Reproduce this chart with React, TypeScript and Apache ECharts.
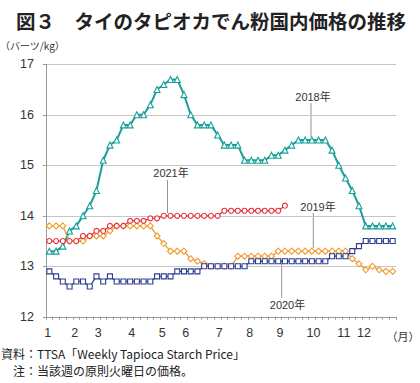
import React, { useEffect, useRef } from 'react';
import * as echarts from 'echarts';

// weekly observations (52 weeks per year)
const weeks: string[] = [
  'W1','W2','W3','W4','W5','W6','W7','W8','W9','W10','W11','W12','W13',
  'W14','W15','W16','W17','W18','W19','W20','W21','W22','W23','W24','W25','W26',
  'W27','W28','W29','W30','W31','W32','W33','W34','W35','W36','W37','W38','W39',
  'W40','W41','W42','W43','W44','W45','W46','W47','W48','W49','W50','W51','W52',
];

const price2018 = [
  13.3, 13.3, 13.4, 13.7, 13.8, 14.0, 14.2, 14.5, 15.1, 15.4, 15.5, 15.8, 15.8,
  16.0, 16.0, 16.2, 16.5, 16.6, 16.7, 16.7, 16.4, 16.0, 15.8, 15.8, 15.8, 15.6,
  15.4, 15.4, 15.4, 15.1, 15.1, 15.1, 15.1, 15.2, 15.2, 15.3, 15.4, 15.5, 15.5,
  15.5, 15.5, 15.5, 15.3, 15.0, 14.75, 14.5, 14.2, 13.8, 13.8, 13.8, 13.8, 13.8,
];

const price2019 = [
  13.8, 13.8, 13.8, 13.5, 13.5, 13.5, 13.6, 13.6, 13.6, 13.7, 13.8, 13.8, 13.8,
  13.8, 13.8, 13.8, 13.6, 13.45, 13.3, 13.3, 13.3, 13.15, 13.1, 13.05, 13.0, 13.0,
  13.0, 13.0, 13.2, 13.2, 13.2, 13.2, 13.2, 13.2, 13.3, 13.3, 13.3, 13.3, 13.3,
  13.3, 13.3, 13.3, 13.3, 13.3, 13.3, 13.15, 13.05, 12.93, 13.0, 12.93, 12.9, 12.9,
];

const price2020 = [
  12.9, 12.8, 12.7, 12.6, 12.7, 12.7, 12.6, 12.8, 12.7, 12.8, 12.7, 12.7, 12.7,
  12.7, 12.7, 12.7, 12.8, 12.8, 12.8, 12.9, 12.9, 12.9, 12.9, 13.0, 13.0, 13.0,
  13.0, 13.0, 13.0, 13.0, 13.1, 13.1, 13.1, 13.1, 13.1, 13.1, 13.1, 13.1, 13.1,
  13.1, 13.1, 13.1, 13.2, 13.2, 13.2, 13.3, 13.4, 13.5, 13.5, 13.5, 13.5, 13.5,
];

const price2021: (number | null)[] = [
  13.5, 13.5, 13.5, 13.5, 13.5, 13.6, 13.6, 13.7, 13.7, 13.8, 13.8, 13.8, 13.9,
  13.9, 13.9, 13.95, 13.95, 14.0, 14.0, 14.0, 14.0, 14.0, 14.0, 14.0, 14.0, 14.0,
  14.1, 14.1, 14.1, 14.1, 14.1, 14.1, 14.1, 14.1, 14.1, 14.2, null, null, null,
  null, null, null, null, null, null, null, null, null, null, null, null, null,
];

const monthLabels = ['1', '2', '3', '4', '5', '6', '7', '8', '9', '10', '11', '12'];
const yTicks = [12, 13, 14, 15, 16, 17];

// layout helpers (positions of month labels on a half-week grid)
const monthLabelSlots = [0, 8, 15, 25, 34, 41, 51, 60, 69, 79, 88, 94];
const halfWeekSlots = Array.from({ length: weeks.length * 2 }, (_, i) => String(i));

const C2018 = '#17A099';
const C2019 = '#F29B2C';
const C2020 = '#2C3C92';
const C2021 = '#E5303B';

const NUM_FONT = '"Liberation Sans", Arial, sans-serif';
const JP_FONT = '"Noto Sans CJK JP", sans-serif';

function mkSeries(name: string, data: (number | null)[], color: string, symbol: string, size: number, width: number) {
  return {
    name,
    type: 'line',
    data,
    xAxisIndex: 0,
    yAxisIndex: 0,
    symbol,
    symbolSize: size,
    showSymbol: true,
    showAllSymbol: true,
    connectNulls: false,
    lineStyle: { color, width },
    itemStyle: { color: '#ffffff', borderColor: color, borderWidth: 1.1 },
    emphasis: { disabled: true },
  };
}

function yearLabel(text: string, cx: number, cy: number, lx: number, y1: number, y2: number) {
  return [
    {
      type: 'text',
      x: cx,
      y: cy,
      style: { text, fill: '#333', fontSize: 11, fontFamily: NUM_FONT + ',' + JP_FONT, align: 'center', verticalAlign: 'middle' },
    },
    {
      type: 'line',
      shape: { x1: lx, y1, x2: lx, y2 },
      style: { stroke: '#777', lineWidth: 0.8 },
    },
  ];
}

export default function App() {
  const ref = useRef<HTMLDivElement>(null);
  useEffect(() => {
    if (!ref.current) return;
    const chart = echarts.init(ref.current, null, { renderer: 'svg' });
    chart.setOption({
      animation: false,
      backgroundColor: '#ffffff',
      grid: { left: 46, top: 64.3, width: 350, height: 252.5, containLabel: false },
      xAxis: [
        {
          type: 'category',
          data: weeks,
          boundaryGap: true,
          offset: 0,
          axisLine: { show: true, lineStyle: { color: '#9a9a9a', width: 1 } },
          axisTick: { show: true, interval: 0, length: 3, lineStyle: { color: '#9a9a9a' } },
          axisLabel: { show: false },
          splitLine: { show: false },
        },
        {
          type: 'category',
          data: halfWeekSlots,
          boundaryGap: true,
          position: 'bottom',
          offset: 0,
          axisLine: { show: false },
          axisTick: { show: false },
          splitLine: { show: false },
          axisLabel: {
            show: true,
            margin: 10,
            interval: (idx: number) => monthLabelSlots.indexOf(idx) >= 0,
            formatter: (_v: string, idx: number) => {
              const k = monthLabelSlots.indexOf(idx);
              return k >= 0 ? monthLabels[k] : '';
            },
            fontSize: 12.5,
            fontFamily: NUM_FONT,
            color: '#333',
          },
        },
      ],
      yAxis: {
        type: 'value',
        min: yTicks[0],
        max: yTicks[yTicks.length - 1],
        interval: 1,
        axisLine: { show: true, lineStyle: { color: '#9a9a9a', width: 1 } },
        axisTick: { show: true, length: 3, lineStyle: { color: '#9a9a9a' } },
        axisLabel: { margin: 12, fontSize: 12.5, fontFamily: NUM_FONT, color: '#333' },
        splitLine: { show: true, lineStyle: { color: '#c6c6c6', width: 1 } },
      },
      series: [
        mkSeries('2018年', price2018, C2018, 'triangle', 6, 2),
        mkSeries('2019年', price2019, C2019, 'diamond', 6, 1.3),
        mkSeries('2020年', price2020, C2020, 'rect', 5, 1.3),
        mkSeries('2021年', price2021, C2021, 'circle', 5, 1.3),
      ],
      graphic: [
        {
          type: 'text',
          x: 16,
          y: 20,
          style: { text: '図３　タイのタピオカでん粉国内価格の推移', fill: '#222', fontSize: 19.5, fontWeight: 'bold', fontFamily: JP_FONT, align: 'left', verticalAlign: 'middle' },
        },
        {
          type: 'text',
          x: 0,
          y: 45,
          style: { text: '（バーツ/kg）', fill: '#333', fontSize: 10, fontFamily: JP_FONT, align: 'left', verticalAlign: 'middle' },
        },
        {
          type: 'text',
          x: 403,
          y: 336,
          style: { text: '（月）', fill: '#333', fontSize: 11, fontFamily: JP_FONT, align: 'center', verticalAlign: 'middle' },
        },
        {
          type: 'text',
          x: 1,
          y: 353,
          style: { text: '資料：TTSA「Weekly Tapioca Starch Price」', fill: '#222', fontSize: 12, fontFamily: JP_FONT, align: 'left', verticalAlign: 'middle' },
        },
        {
          type: 'text',
          x: 1,
          y: 370,
          style: { text: '　注：当該週の原則火曜日の価格。', fill: '#222', fontSize: 12, fontFamily: JP_FONT, align: 'left', verticalAlign: 'middle' },
        },
        ...yearLabel('2018年', 313, 97, 311, 103, 137),
        ...yearLabel('2021年', 171, 173, 167.5, 180, 213),
        ...yearLabel('2019年', 318, 207, 313.3, 213, 248),
        ...yearLabel('2020年', 287.5, 305, 281.7, 263, 298),
      ],
    });
    return () => chart.dispose();
  }, []);
  return <div ref={ref} style={{ position: 'fixed', left: 0, top: 0, width: 420, height: 383 }} />;
}
